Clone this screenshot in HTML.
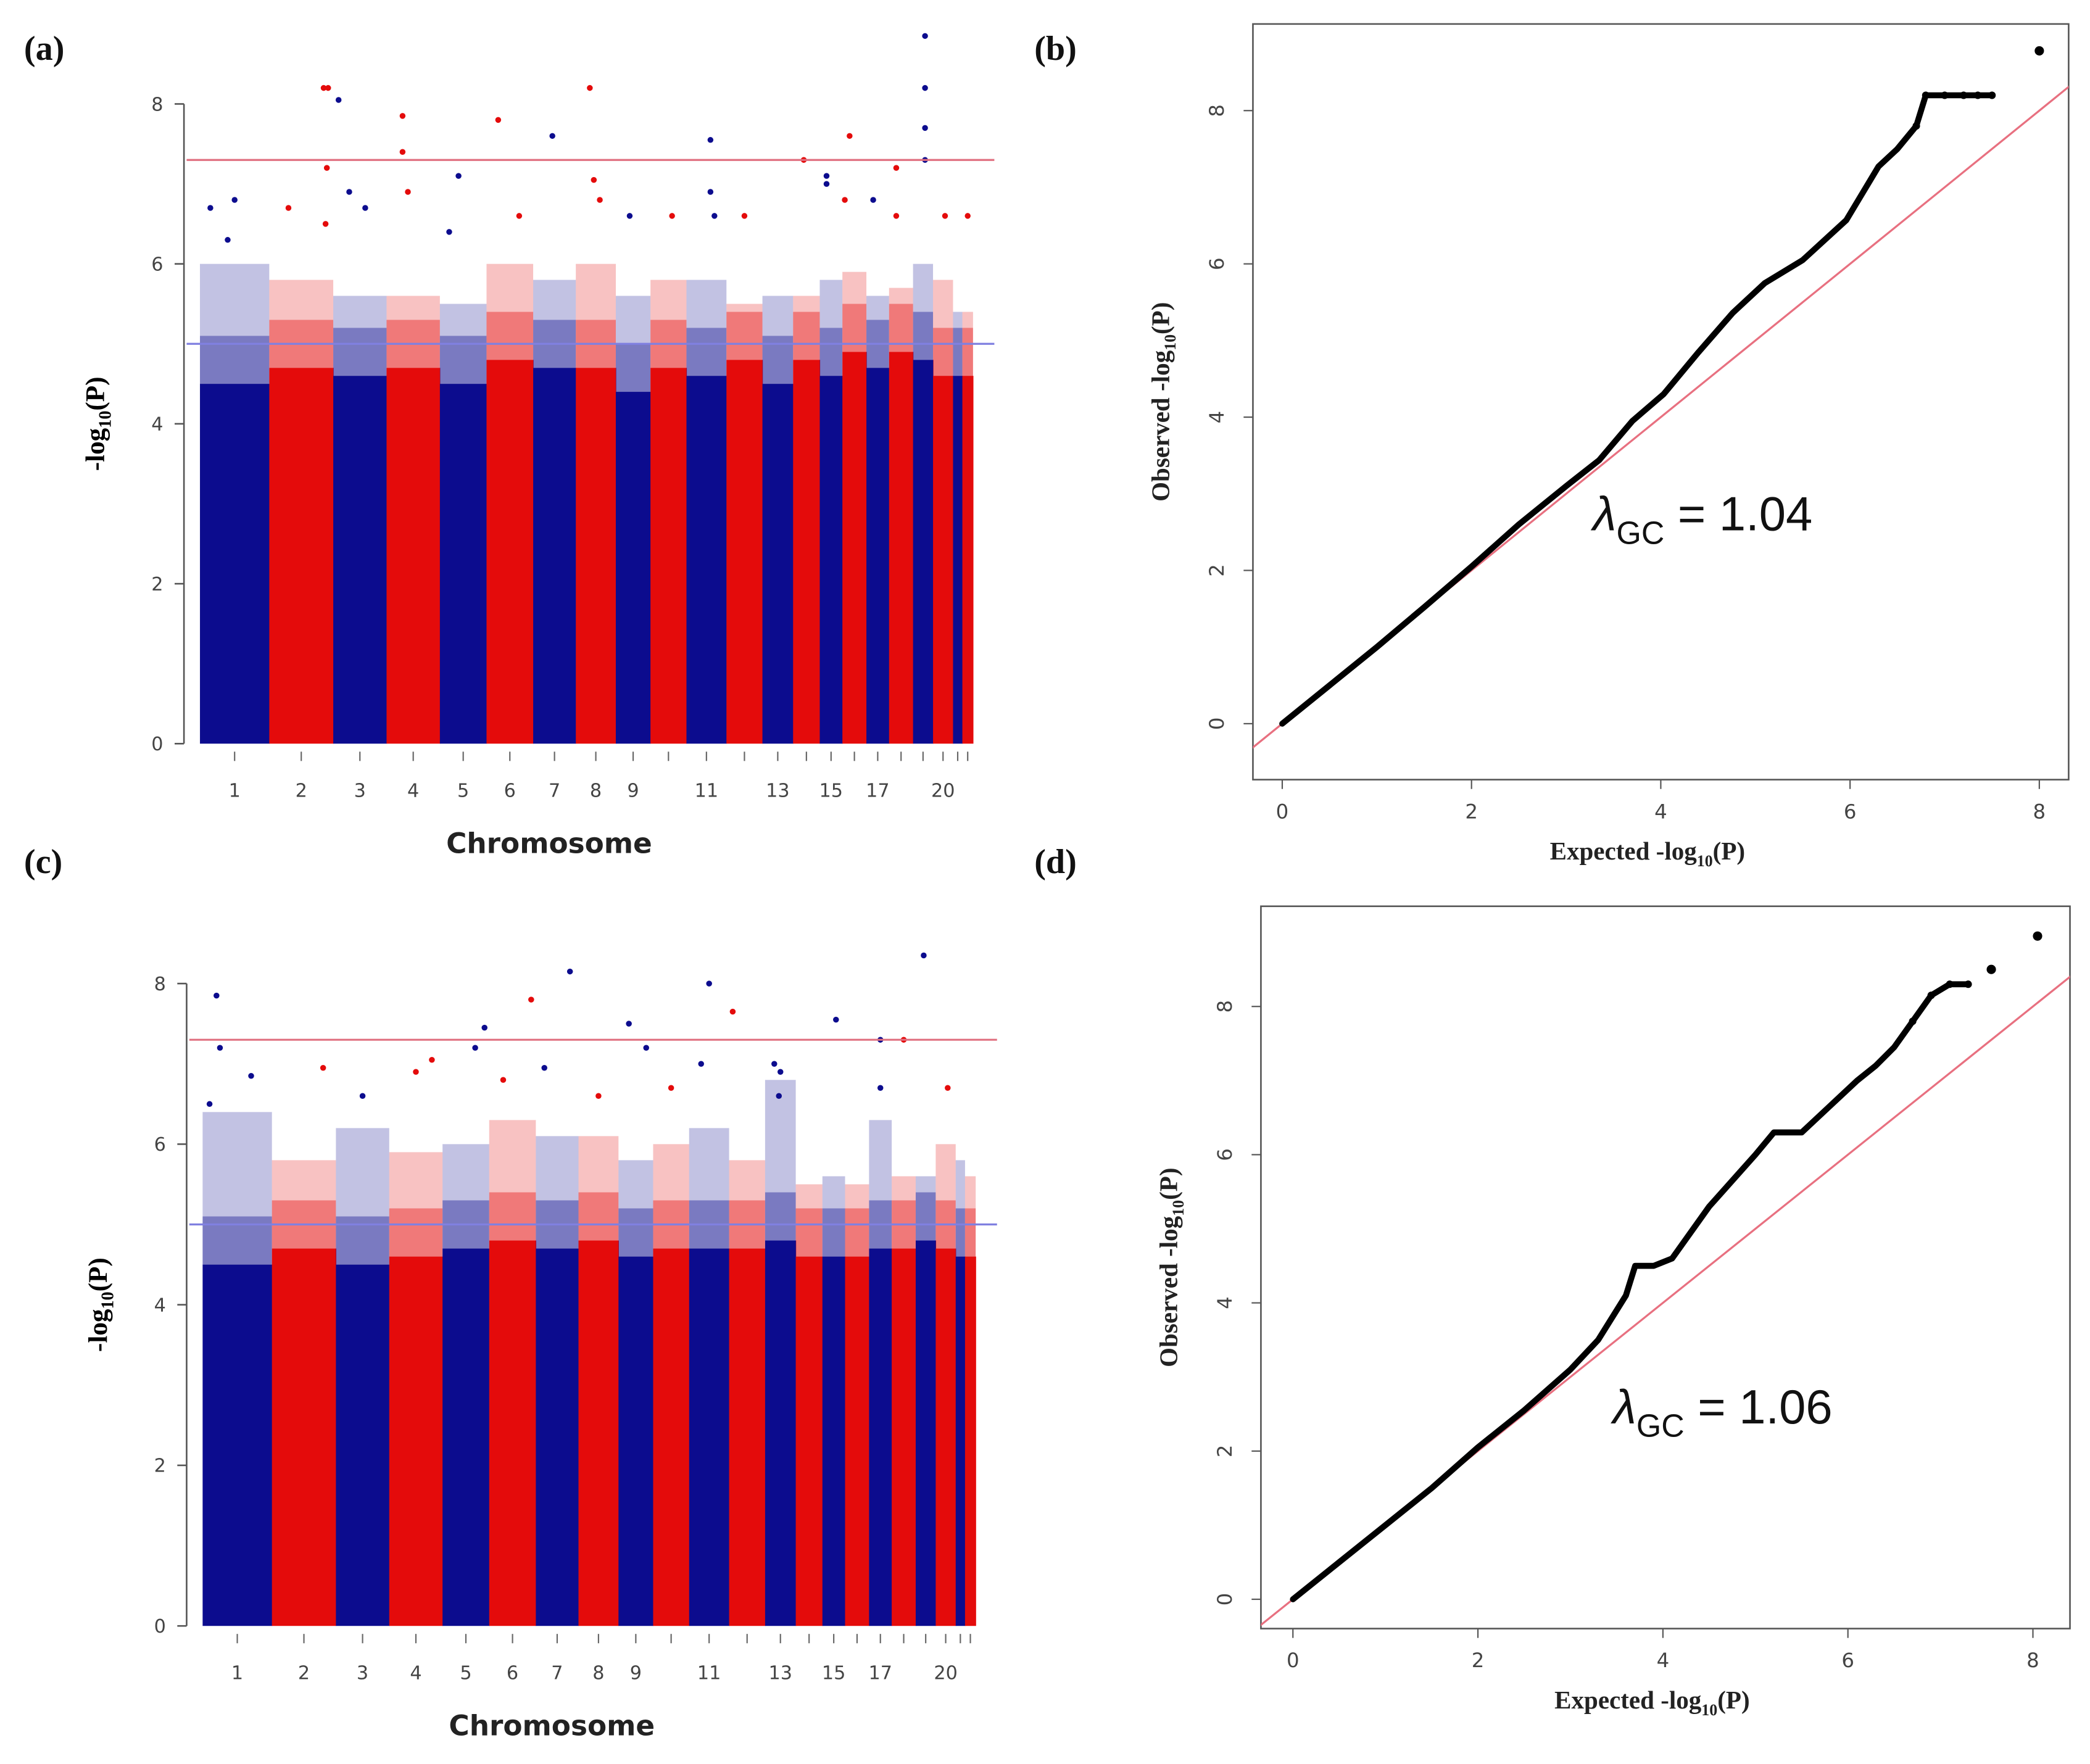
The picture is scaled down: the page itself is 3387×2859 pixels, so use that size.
<!DOCTYPE html>
<html><head><meta charset="utf-8"><style>
html,body{margin:0;padding:0;background:#fff;}
svg{display:block;}
</style></head><body>
<svg id="fig" xmlns="http://www.w3.org/2000/svg" width="3387" height="2859" viewBox="0 0 1568 1323.6">
<rect width="1568" height="1323.6" fill="#fff"/>
<g id="root"></g>
</svg>
<script>
// ---- data ----
const chrLengths = [52,48,40,40,35,35,32,30,26,27,30,27,23,20,17,18,17,18,15,15,7,8];
const chrTickLabels = ["1","2","3","4","5","6","7","8","9","","11","","13","","15","","17","","","20","",""];
const yTicksManhattan = [0,2,4,6,8];
const genomeWideLine = 7.3;
const suggestiveLine = 5;
const denseTopA = [4.5,4.7,4.6,4.7,4.5,4.8,4.7,4.7,4.4,4.7,4.6,4.8,4.5,4.8,4.6,4.9,4.7,4.9,4.8,4.6,4.6,4.6];
const sparseTopA = [6.0,5.8,5.6,5.6,5.5,6.0,5.8,6.0,5.6,5.8,5.8,5.5,5.6,5.6,5.8,5.9,5.6,5.7,6.0,5.8,5.4,5.4];
const hitsA = [[1,0.15,6.7],[1,0.5,6.8],[1,0.4,6.3],[2,0.85,8.2],[2,0.92,8.2],[2,0.9,7.2],[2,0.88,6.5],[2,0.3,6.7],[3,0.1,8.05],[3,0.3,6.9],[3,0.6,6.7],[4,0.3,7.85],[4,0.3,7.4],[4,0.4,6.9],[5,0.4,7.1],[5,0.2,6.4],[6,0.25,7.8],[6,0.7,6.6],[7,0.45,7.6],[8,0.35,8.2],[8,0.45,7.05],[8,0.6,6.8],[9,0.4,6.6],[10,0.6,6.6],[11,0.6,7.55],[11,0.6,6.9],[11,0.7,6.6],[12,0.5,6.6],[14,0.4,7.3],[15,0.3,7.1],[15,0.3,7.0],[16,0.1,6.8],[16,0.3,7.6],[17,0.3,6.8],[18,0.3,7.2],[18,0.3,6.6],[19,0.6,8.85],[19,0.6,8.2],[19,0.6,7.7],[19,0.6,7.3],[20,0.6,6.6],[22,0.5,6.6]];
const denseTopC = [4.5,4.7,4.5,4.6,4.7,4.8,4.7,4.8,4.6,4.7,4.7,4.7,4.8,4.6,4.6,4.6,4.7,4.7,4.8,4.7,4.6,4.6];
const sparseTopC = [6.4,5.8,6.2,5.9,6.0,6.3,6.1,6.1,5.8,6.0,6.2,5.8,6.8,5.5,5.6,5.5,6.3,5.6,5.6,6.0,5.8,5.6];
const hitsC = [[1,0.2,7.85],[1,0.25,7.2],[1,0.7,6.85],[1,0.1,6.5],[2,0.8,6.95],[3,0.5,6.6],[4,0.5,6.9],[4,0.8,7.05],[5,0.7,7.2],[5,0.9,7.45],[6,0.9,7.8],[6,0.3,6.8],[7,0.2,6.95],[7,0.8,8.15],[8,0.5,6.6],[9,0.3,7.5],[9,0.8,7.2],[10,0.5,6.7],[11,0.5,8.0],[11,0.3,7.0],[12,0.1,7.65],[13,0.5,6.9],[13,0.45,6.6],[13,0.3,7.0],[15,0.6,7.55],[17,0.5,7.3],[17,0.5,6.7],[18,0.5,7.3],[19,0.4,8.35],[20,0.6,6.7]];
const qqTicks = [0,2,4,6,8];
const qqExpB = [0,0.5,1,1.5,2,2.5,3,3.35,3.7,4.03,4.4,4.76,5.1,5.5,5.96,6.3,6.5,6.7,6.8,7.0,7.2,7.35,7.5];
const qqObsB = [0,0.5,1,1.52,2.05,2.6,3.1,3.44,3.95,4.3,4.85,5.36,5.75,6.05,6.57,7.27,7.5,7.8,8.2,8.2,8.2,8.2,8.2];
const qqTopB = [8.0,8.78];
const qqExpD = [0,0.5,1,1.5,2,2.5,3,3.3,3.6,3.7,3.9,4.1,4.5,5.0,5.2,5.5,5.8,6.1,6.3,6.5,6.7,6.9,7.1,7.3];
const qqObsD = [0,0.5,1,1.5,2.05,2.55,3.1,3.5,4.1,4.5,4.5,4.6,5.3,6.0,6.3,6.3,6.65,7.0,7.2,7.45,7.8,8.15,8.3,8.3];
const qqTopD = [[7.55,8.5],[8.05,8.95]];
const lambdaB = "1.04", lambdaD = "1.06";

// ---- drawing ----
const NS="http://www.w3.org/2000/svg";
const root=document.getElementById('root');
function el(tag,attrs,parent,text){const e=document.createElementNS(NS,tag);for(const k in attrs)e.setAttribute(k,attrs[k]);if(text!==undefined)e.textContent=text;(parent||root).appendChild(e);return e;}
const BLUE="#0c0c8e",RED="#e40b0b";

function manhattan(cfg){
  const g=el('g',{});
  
  
  const total=chrLengths.reduce((a,b)=>a+b,0);
  const xs=p=>cfg.x0+(cfg.x1-cfg.x0)*p/total;
  const ys=v=>cfg.y0-v*cfg.unit;
  let cum=0;const starts=[];
  chrLengths.forEach((L,i)=>{starts.push(cum);
    const col=i%2===0?BLUE:RED;
    const w=xs(cum+L)-xs(cum);
    const r=el('rect',{x:xs(cum),y:ys(cfg.dense[i]),width:w+0.3,height:cfg.dense[i]*cfg.unit,fill:col},g);
    
    
    const mid=Math.min(cfg.dense[i]+0.6,cfg.sparse[i]);
    const m=el('rect',{x:xs(cum),y:ys(mid),width:w,height:(mid-cfg.dense[i])*cfg.unit,fill:col,opacity:0.55},g);
    
    
    const s=el('rect',{x:xs(cum),y:ys(cfg.sparse[i]),width:w,height:(cfg.sparse[i]-mid)*cfg.unit,fill:col,opacity:0.25},g);
    
    
    el('line',{x1:xs(cum+L/2),x2:xs(cum+L/2),y1:cfg.y0+6,y2:cfg.y0+13,stroke:'#666','stroke-width':1},g);
    if(chrTickLabels[i]){const t=el('text',{x:xs(cum+L/2),y:cfg.y0+40,'font-size':14,'text-anchor':'middle',fill:'#444','font-family':'DejaVu Sans, sans-serif'},g,chrTickLabels[i]);
      }
    cum+=L;});
  cfg.hits.forEach(h=>{const i=h[0]-1;const c=el('circle',{cx:xs(starts[i]+chrLengths[i]*h[1]),cy:ys(h[2]),r:2.2,fill:i%2===0?BLUE:RED},g);
    });
  const l1=el('line',{x1:cfg.x0-10,x2:cfg.x1+16,y1:ys(genomeWideLine),y2:ys(genomeWideLine),stroke:'#e07080','stroke-width':1.5},g);
  
  const l2=el('line',{x1:cfg.x0-10,x2:cfg.x1+16,y1:ys(suggestiveLine),y2:ys(suggestiveLine),stroke:'#8080e0','stroke-width':1.5},g);
  
  const ax=cfg.x0-12;
  el('line',{x1:ax,x2:ax,y1:ys(8),y2:ys(0),stroke:'#555','stroke-width':1.2},g);
  yTicksManhattan.forEach(v=>{el('line',{x1:ax-7,x2:ax,y1:ys(v),y2:ys(v),stroke:'#555','stroke-width':1.2},g);
    const t=el('text',{x:ax-20,y:ys(v)+5,'font-size':14,'text-anchor':'middle',fill:'#444','font-family':'DejaVu Sans, sans-serif'},g,String(v));
    });
  const yt=el('text',{x:0,y:0,transform:`translate(${cfg.x0-72},${ys(4)}) rotate(-90)`,'font-size':20,'font-weight':'bold','text-anchor':'middle','font-family':'Liberation Serif, serif'},g);
  
  yt.innerHTML='-log<tspan font-size="13" dy="5">10</tspan><tspan dy="-5">(P)</tspan>';
  const xt=el('text',{x:(cfg.x0+cfg.x1)/2-28,y:cfg.y0+82,'font-size':21,'font-weight':'bold','text-anchor':'middle','font-family':'DejaVu Sans, sans-serif',fill:'#222'},g,'Chromosome');
  
}

function qq(cfg){
  const g=el('g',{});
  
  
  const xs=v=>cfg.ox+v*cfg.ux, ys=v=>cfg.oy-v*cfg.uy;
  const box=el('rect',{x:cfg.bx0,y:cfg.by0,width:cfg.bx1-cfg.bx0,height:cfg.by1-cfg.by0,fill:'none',stroke:'#555','stroke-width':1.2},g);
  
  const cid='clip'+cfg.name;const cp=el('clipPath',{id:cid},g);el('rect',{x:cfg.bx0,y:cfg.by0,width:cfg.bx1-cfg.bx0,height:cfg.by1-cfg.by0},cp);
  const d=el('line',{x1:xs(-1),y1:ys(-1),x2:xs(10),y2:ys(10),stroke:'#e87080','stroke-width':1.5,'clip-path':`url(#${cid})`},g);
  
  const pts=cfg.ex.map((e,i)=>xs(e)+','+ys(cfg.ob[i])).join(' ');
  const pl=el('polyline',{points:pts,fill:'none',stroke:'#000','stroke-width':4.5,'stroke-linejoin':'round','stroke-linecap':'round'},g);
  
  for(let i=0;i<cfg.ex.length;i++){ if(cfg.ex[i]>=6.7){const c=el('circle',{cx:xs(cfg.ex[i]),cy:ys(cfg.ob[i]),r:2.8,fill:'#000'},g);}}
  cfg.top.forEach(p=>{const c=el('circle',{cx:xs(p[0]),cy:ys(p[1]),r:3.5,fill:'#000'},g);});
  qqTicks.forEach(v=>{
    el('line',{x1:xs(v),x2:xs(v),y1:cfg.by1,y2:cfg.by1+7,stroke:'#555'},g);
    const t=el('text',{x:xs(v),y:cfg.by1+29,'font-size':15,'text-anchor':'middle',fill:'#444','font-family':'DejaVu Sans, sans-serif'},g,String(v));
    
    el('line',{x1:cfg.bx0-7,x2:cfg.bx0,y1:ys(v),y2:ys(v),stroke:'#555'},g);
    const u=el('text',{x:0,y:0,transform:`translate(${cfg.bx0-22},${ys(v)}) rotate(-90)`,'font-size':15,'text-anchor':'middle',fill:'#444','font-family':'DejaVu Sans, sans-serif'},g,String(v));
    });
  const xt=el('text',{x:(cfg.bx0+cfg.bx1)/2-10,y:cfg.by1+60,'font-size':19,'font-weight':'bold','text-anchor':'middle','font-family':'Liberation Serif, serif',fill:'#222'},g);
  xt.innerHTML='Expected -log<tspan font-size="12" dy="5">10</tspan><tspan dy="-5">(P)</tspan>';
  
  const yt=el('text',{x:0,y:0,transform:`translate(${cfg.bx0-63},${(cfg.by0+cfg.by1)/2}) rotate(-90)`,'font-size':19,'font-weight':'bold','text-anchor':'middle','font-family':'Liberation Serif, serif',fill:'#222'},g);
  yt.innerHTML='Observed -log<tspan font-size="12" dy="5">10</tspan><tspan dy="-5">(P)</tspan>';
  
  const lt=el('text',{x:cfg.lx,y:cfg.ly,'font-size':36,'font-family':'Liberation Sans, sans-serif',fill:'#111'},g);
  lt.innerHTML='<tspan font-style="italic">λ</tspan><tspan font-size="24" dy="10">GC</tspan><tspan dy="-10"> = '+cfg.lam+'</tspan>';
  
}

manhattan({name:'manhattan-plot-a',x0:150,x1:730,y0:558,unit:60,dense:denseTopA,sparse:sparseTopA,hits:hitsA});
manhattan({name:'manhattan-plot-c',x0:152,x1:732,y0:1220,unit:60.25,dense:denseTopC,sparse:sparseTopC,hits:hitsC});
qq({name:'qq-plot-b',bx0:940,bx1:1552,by0:18,by1:585,ox:962,ux:71,oy:543,uy:57.5,ex:qqExpB,ob:qqObsB,top:[qqTopB],lx:1195,ly:398,lam:lambdaB});
qq({name:'qq-plot-d',bx0:946,bx1:1553,by0:680,by1:1222,ox:970,ux:69.4,oy:1200,uy:55.6,ex:qqExpD,ob:qqObsD,top:qqTopD,lx:1210,ly:1068,lam:lambdaD});

[["(a)",18,45],["(b)",776,45],["(c)",18,655],["(d)",776,655]].forEach(p=>{
  const t=el('text',{x:p[1],y:p[2],'font-size':26,'font-weight':'bold','font-family':'Liberation Serif, serif',fill:'#111'},root,p[0]);
  });
</script>
</body></html>
